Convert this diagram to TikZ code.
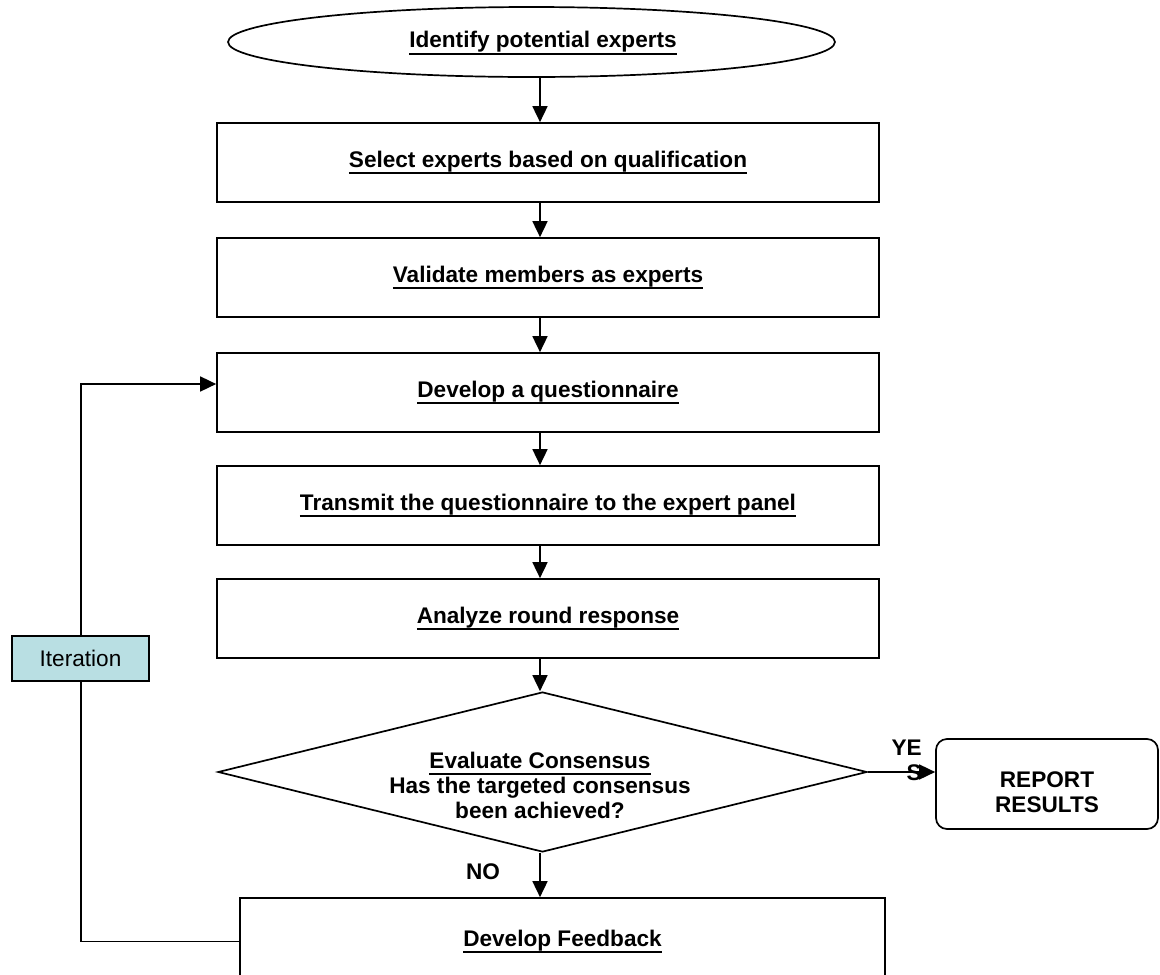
\documentclass[tikz,border=0pt]{standalone}
\usepackage{fontspec}
\setmainfont{Liberation Sans}
\usetikzlibrary{arrows.meta,shapes.geometric}
\definecolor{iterfill}{RGB}{185,223,227}
\newsavebox\ulsavebox
\newcommand\ulin[1]{\sbox\ulsavebox{#1}\rlap{\rule[-7.2pt]{\wd\ulsavebox}{2.2pt}}\usebox\ulsavebox}
\tikzset{
  txt/.style={font=\fontsize{22.6pt}{25pt}\selectfont\bfseries, inner sep=0pt, align=center},
  stepbox/.style={draw, line width=1.7pt, minimum width=662pt, minimum height=79pt, inner sep=0pt, font=\fontsize{22.6pt}{25pt}\selectfont\bfseries},
  arr/.style={-{Triangle[length=16pt,width=15pt]}, line width=1.7pt},
}
\begin{document}
\begin{tikzpicture}[x=1pt,y=-1pt]
\useasboundingbox (0,0) rectangle (1160,975);
\clip (0,0) rectangle (1160,975);
\fill[white] (0,0) rectangle (1160,975);
\coordinate (axis) at (540,0);
% start
\node (start) [draw, ellipse, line width=1.7pt, minimum width=607pt, minimum height=70pt, inner sep=0pt] at (531.5,42) {};
\node (starttext) [txt] at (543,43) {\ulin{Identify potential experts}};
% boxes
\node (b1) [stepbox] at (548,162.5) {\ulin{Select experts based on qualification}};
\node (b2) [stepbox] at (548,277.5) {\ulin{Validate members as experts}};
\node (b3) [stepbox] at (548,392.5) {\ulin{Develop a questionnaire}};
\node (b4) [stepbox] at (548,505.5) {\ulin{Transmit the questionnaire to the expert panel}};
\node (b5) [stepbox] at (548,618.5) {\ulin{Analyze round response}};
% decision
\node (dia) [draw, diamond, line width=1.7pt, aspect=4.06, minimum width=649pt, minimum height=160pt, inner sep=0pt] at (542.5,772) {};
\node (diatext) [txt] at (540,785) {\ulin{Evaluate Consensus}\\Has the targeted consensus\\been achieved?};
% report
\node (rep) [draw, line width=1.7pt, rounded corners=11pt, minimum width=222pt, minimum height=90pt, inner sep=0pt] at (1047,784) {};
\node (reptext) [txt] at (1047,792) {REPORT\\RESULTS};
% feedback
\node (fb) [draw, line width=1.7pt, minimum width=645pt, minimum height=87pt, inner sep=0pt, font=\fontsize{22.6pt}{25pt}\selectfont\bfseries] at (562.5,941.5) {\ulin{Develop Feedback}};
% arrows
\draw[arr] (start.south -| axis) -- (b1.north -| axis);
\draw[arr] (b1.south -| axis) -- (b2.north -| axis);
\draw[arr] (b2.south -| axis) -- (b3.north -| axis);
\draw[arr] (b3.south -| axis) -- (b4.north -| axis);
\draw[arr] (b4.south -| axis) -- (b5.north -| axis);
\draw[arr] (b5.south -| axis) -- (dia.north -| axis);
\draw[arr] (dia.south -| axis) -- (fb.north -| axis);
\draw[arr] (dia.east) -- (dia.east -| rep.west);
\node (yes) [txt, align=right, anchor=east] at (922,760) {YE\\S};
\node (no) [txt] at (483,872) {NO};
% loop
\coordinate (loopT) at (81,384);
\draw[arr] (fb.west) -| (loopT) -- (loopT -| b3.west);
\node (iter) [draw, line width=1.7pt, fill=iterfill, minimum width=137pt, minimum height=45pt, inner sep=0pt, font=\fontsize{22.6pt}{25pt}\selectfont] at (80.5,658.5) {Iteration};
\end{tikzpicture}
\end{document}
